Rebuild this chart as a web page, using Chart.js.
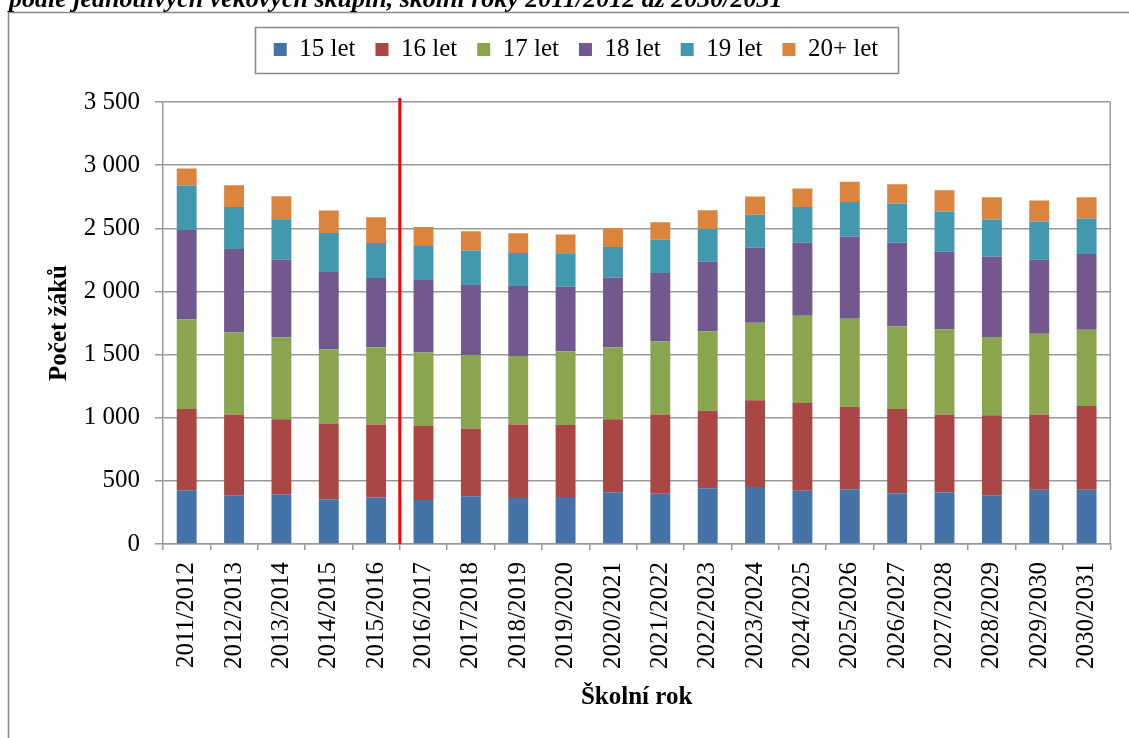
<!DOCTYPE html>
<html lang="cs">
<head>
<meta charset="utf-8">
<title>Počet žáků podle věkových skupin</title>
<script src="https://cdn.jsdelivr.net/npm/chart.js@4/dist/chart.umd.min.js"></script>
<style>
    html, body { margin: 0; padding: 0; background: #fff; }
    #wrap { position: relative; width: 1129px; height: 738px; }
</style>
</head>
<body>
<div id="wrap"><canvas id="chart"></canvas></div>
<script>
// School years on the x axis
const years = [
    '2011/2012', '2012/2013', '2013/2014', '2014/2015', '2015/2016',
    '2016/2017', '2017/2018', '2018/2019', '2019/2020', '2020/2021',
    '2021/2022', '2022/2023', '2023/2024', '2024/2025', '2025/2026',
    '2026/2027', '2027/2028', '2028/2029', '2029/2030', '2030/2031'
];

// Pupils by age group
const age15 = [426, 386, 394, 354, 368, 349, 378, 365, 373, 410, 397, 442, 452, 421, 434, 402, 410, 386, 429, 429];
const age16 = [643, 640, 593, 601, 579, 585, 537, 582, 569, 577, 629, 614, 686, 695, 651, 667, 616, 633, 597, 664];
const age17 = [709, 649, 648, 587, 611, 582, 582, 542, 582, 569, 577, 629, 613, 691, 698, 653, 672, 621, 638, 603];
const age18 = [709, 661, 616, 611, 548, 574, 553, 553, 513, 555, 543, 550, 596, 579, 651, 664, 617, 635, 587, 600];
const age19 = [352, 333, 320, 310, 278, 270, 275, 262, 265, 241, 264, 260, 261, 283, 275, 310, 317, 294, 302, 281];
const age20 = [135, 172, 183, 177, 203, 151, 151, 156, 148, 151, 138, 148, 143, 146, 159, 153, 170, 177, 167, 169];

const groupNames = ['15 let', '16 let', '17 let', '18 let', '19 let', '20+ let'];
const groupColors = ['#4572A7', '#AA4643', '#89A54E', '#71588F', '#4198AF', '#DB843D'];

// y axis range
const yMax = 3500;
const yStep = 500;

// last school year with actual data (red divider is drawn after it)
const lastActual = '2015/2016';

const chartTitle = 'podle jednotlivých věkových skupin, školní roky 2011/2012 až 2030/2031';

const serif = '"Liberation Serif", "Times New Roman", serif';
const gridColor = '#999999';
const frameColor = '#8a8a8a';

Chart.defaults.font.family = serif;
Chart.defaults.color = '#000';

const seriesData = [age15, age16, age17, age18, age19, age20];
const datasets = seriesData.map((vals, i) => ({
    label: groupNames[i],
    data: vals,
    backgroundColor: groupColors[i],
    borderWidth: 0,
    barPercentage: 0.42,
    categoryPercentage: 1.0
}));

// extra space under the legend
const legendGap = {
    id: 'legendGap',
    beforeInit(chart) {
        const fit = chart.legend.fit;
        chart.legend.fit = function () {
            fit.bind(chart.legend)();
            this.height += 30;
        };
    }
};

// outer frame, cut-off heading, legend box, plot border and divider line
const decorations = {
    id: 'decorations',
    beforeDraw(chart) {
        const ctx = chart.ctx;
        ctx.save();
        ctx.strokeStyle = frameColor;
        ctx.lineWidth = 1.5;
        ctx.beginPath();
        ctx.moveTo(8.5, chart.height);
        ctx.lineTo(8.5, 12.5);
        ctx.lineTo(chart.width, 12.5);
        ctx.stroke();

        ctx.fillStyle = '#000';
        ctx.font = 'italic bold 26px ' + serif;
        ctx.textBaseline = 'alphabetic';
        ctx.textAlign = 'left';
        ctx.fillText(chartTitle, 9, 7);
        ctx.restore();
    },
    afterDatasetsDraw(chart) {
        const ctx = chart.ctx;
        const area = chart.chartArea;
        const x = chart.scales.x;
        ctx.save();

        // right edge of the plot area
        ctx.strokeStyle = gridColor;
        ctx.lineWidth = 1.5;
        ctx.beginPath();
        ctx.moveTo(area.right, area.top);
        ctx.lineTo(area.right, area.bottom);
        ctx.stroke();

        // divider between actual and projected years
        const i = years.indexOf(lastActual);
        const xd = (x.getPixelForValue(i) + x.getPixelForValue(i + 1)) / 2;
        ctx.strokeStyle = '#ff0000';
        ctx.lineWidth = 3;
        ctx.beginPath();
        ctx.moveTo(xd, area.top - 4);
        ctx.lineTo(xd, area.bottom);
        ctx.stroke();

        // legend frame
        const boxes = chart.legend.legendHitBoxes;
        if (boxes && boxes.length) {
            const l = Math.min(...boxes.map(b => b.left)) - 19;
            const r = Math.max(...boxes.map(b => b.left + b.width)) + 19;
            const cy = boxes[0].top + boxes[0].height / 2;
            ctx.strokeStyle = frameColor;
            ctx.lineWidth = 1.5;
            ctx.strokeRect(Math.round(l) + 0.5, Math.round(cy - 23) + 0.5, Math.round(r - l), 46);
        }
        ctx.restore();
    }
};

new Chart(document.getElementById('chart'), {
    type: 'bar',
    data: { labels: years, datasets: datasets },
    plugins: [legendGap, decorations],
    options: {
        responsive: true,
        maintainAspectRatio: false,
        animation: false,
        layout: {
            padding: { left: 39, right: 16, top: 17, bottom: 0 }
        },
        plugins: {
            legend: {
                position: 'top',
                labels: {
                    boxWidth: 13,
                    boxHeight: 13,
                    padding: 20,
                    color: '#000',
                    font: { size: 25, family: serif }
                }
            },
            tooltip: { enabled: false }
        },
        scales: {
            x: {
                stacked: true,
                grid: {
                    display: true,
                    drawOnChartArea: false,
                    offset: true,
                    tickLength: 6,
                    color: gridColor,
                    lineWidth: 1.5
                },
                border: { color: gridColor, width: 1.5 },
                ticks: {
                    autoSkip: false,
                    minRotation: 90,
                    maxRotation: 90,
                    padding: 12,
                    color: '#000',
                    font: { size: 25, family: serif }
                },
                title: {
                    display: true,
                    text: 'Školní rok',
                    color: '#000',
                    font: { size: 25, weight: 'bold', family: serif },
                    padding: { top: 0, bottom: 25 }
                },
                afterFit(scale) { scale.height = 194; }
            },
            y: {
                stacked: true,
                min: 0,
                max: yMax,
                grid: {
                    color: gridColor,
                    lineWidth: 1.5,
                    tickLength: 8
                },
                border: { color: gridColor, width: 1.5 },
                ticks: {
                    stepSize: yStep,
                    padding: 15,
                    color: '#000',
                    font: { size: 25, family: serif },
                    callback: v => String(v).replace(/\B(?=(\d{3})+(?!\d))/g, ' ')
                },
                title: {
                    display: true,
                    text: 'Počet žáků',
                    color: '#000',
                    font: { size: 25, weight: 'bold', family: serif },
                    padding: { top: 6, bottom: 0 }
                },
                afterFit(scale) { scale.width = 124; }
            }
        }
    }
});
</script>
</body>
</html>
